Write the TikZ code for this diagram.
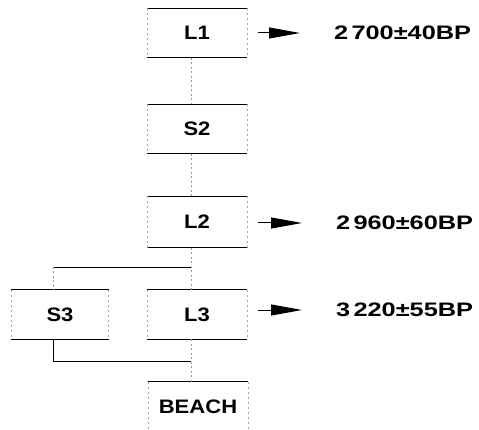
\documentclass[tikz,border=0pt]{standalone}
\usepackage{fontspec}
\setmainfont{Liberation Sans}[FakeStretch=1.13]
\newfontfamily\agefont{Liberation Sans}[FakeStretch=1.3]
\usetikzlibrary{arrows.meta}

\tikzset{
  layer/.style={minimum width=100pt, minimum height=49pt, inner sep=0pt,
    font=\fontsize{19.5}{22}\selectfont\bfseries},
  age/.style={anchor=west, inner sep=0pt,
    font=\agefont\fontsize{19.5}{22}\selectfont\bfseries},
  rule/.style={line width=1.1pt},
  side/.style={gray!70, line width=0.5pt, dash pattern=on 2pt off 3pt},
  link/.style={gray!80, line width=0.6pt, dash pattern=on 2pt off 2.5pt},
  branch/.style={line width=0.9pt},
  dated/.style={line width=1pt, -{Triangle[length=31pt,width=11pt]},
    shorten <=11pt, shorten >=34pt}
}

\begin{document}
\begin{tikzpicture}[x=1pt,y=-1pt]
\useasboundingbox (0,0) rectangle (479,430);

\node[layer] (L1) at (197,33) {L1};
\node[layer] (S2) at (197,129) {S2};
\node[layer, minimum height=51pt] (L2) at (197,222) {L2};
\node[layer] (L3) at (197,314.5) {L3};
\node[layer, minimum width=97pt] (S3) at (60,314.5) {S3};
\node[layer] (beach) at (198,406.5) {BEACH};

\foreach \n in {L1,S2,L2,L3,S3} {
  \draw[rule] (\n.north west) -- (\n.north east);
  \draw[rule] (\n.south west) -- (\n.south east);
  \draw[side] (\n.north west) -- (\n.south west);
  \draw[side] (\n.north east) -- (\n.south east);
}
\draw[rule] (beach.north west) -- (beach.north east);
\draw[side] (beach.north west) -- (beach.south west);
\draw[side] (beach.north east) -- (beach.south east);

\coordinate (split) at (191,267);
\coordinate (join) at (191,361);
\coordinate (s3top) at ([xshift=-7pt]S3.north);
\coordinate (s3bot) at ([xshift=-7pt]S3.south);

\draw[link] ([xshift=-6pt]L1.south) -- ([xshift=-6pt]S2.north);
\draw[link] ([xshift=-6pt]S2.south) -- ([xshift=-6pt]L2.north);
\draw[link] ([xshift=-6pt]L2.south) -- (split) -- ([xshift=-6pt]L3.north);
\draw[branch] (split) -- (split -| s3top);
\draw[link] (split -| s3top) -- (s3top);
\draw[branch] (s3bot) -- (s3bot |- join) -- (join);
\draw[link] ([xshift=-6pt]L3.south) -- (join) -- ([xshift=-7pt]beach.north);

\node[age] (d1) at (334,33) {2\,700±40BP};
\node[age] (d2) at (336,223) {2\,960±60BP};
\node[age] (d3) at (336,310) {3\,220±55BP};

\draw[dated] (L1.east |- d1.west) -- (d1.west);
\draw[dated] (L2.east |- d2.west) -- (d2.west);
\draw[dated] (L3.east |- d3.west) -- (d3.west);
\end{tikzpicture}
\end{document}
